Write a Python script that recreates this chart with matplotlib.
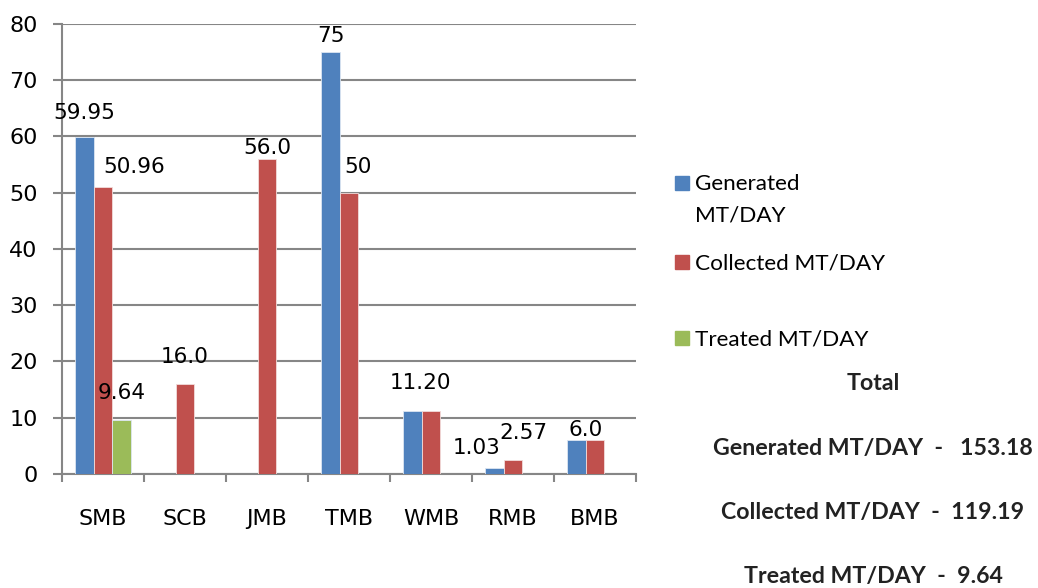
import matplotlib
matplotlib.use("Agg")
import matplotlib.pyplot as plt
from matplotlib.patches import Rectangle
import numpy as np

# zone-wise waste figures (MT/DAY)
zones = ["SMB", "SCB", "JMB", "TMB", "WMB", "RMB", "BMB"]
generated = [59.95, 0, 0, 75, 11.20, 1.03, 6.0]
collected = [50.96, 16.0, 56.0, 50, 11.20, 2.57, 6.0]
treated = [9.64, 0, 0, 0, 0, 0, 0]

series_names = ["Generated\nMT/DAY", "Collected MT/DAY", "Treated MT/DAY"]
colors = ["#4F81BD", "#C0504D", "#9BBB59"]

# (series index, zone index, label text)
bar_labels = [
    (0, 0, "59.95"), (1, 0, "50.96"), (2, 0, "9.64"),
    (1, 1, "16.0"), (1, 2, "56.0"),
    (0, 3, "75"), (1, 3, "50"),
    (0, 4, "11.20"),
    (0, 5, "1.03"), (1, 5, "2.57"),
    (0, 6, "6.0"),
]
# pixel offsets of each label from its bar top
label_offsets = [
    (0, 24), (31, 20), (0, 27),
    (0, 27), (0, 11),
    (0, 16), (9, 26),
    (8, 28),
    (-18, 20), (10, 27),
    (9, 10),
]

totals_title = "Total"
totals = [
    "Generated MT/DAY  -   153.18",
    "Collected MT/DAY  -  119.19",
    "Treated MT/DAY  -  9.64",
]

fig = plt.figure(figsize=(10.38, 5.88), dpi=100)
ax = fig.add_axes([0.0597, 0.1939, 0.5530, 0.7653])

x = np.arange(len(zones))
width = 0.225
all_series = [generated, collected, treated]
for i, (vals, c) in enumerate(zip(all_series, colors)):
    ax.bar(x + (i - 1) * width, vals, width=width, color=c,
           edgecolor="#F2DCDB" if i == 1 else "#DCE6F2", linewidth=0.6, zorder=3)

for (s, z, txt), (dx, dy) in zip(bar_labels, label_offsets):
    val = all_series[s][z]
    ax.annotate(txt, (x[z] + (s - 1) * width, val), xytext=(dx, dy),
                textcoords="offset pixels", ha="center", va="center",
                fontsize=15.5, color="black", zorder=4)

ax.set_xlim(-0.5, len(zones) - 0.5)
ax.set_ylim(0, 80)
ax.set_yticks(range(0, 81, 10))
ax.yaxis.grid(True, color="#868686", linewidth=1.5, zorder=0)
ax.tick_params(axis="y", direction="out", length=6.5, width=1.5,
               color="#868686", labelsize=16, pad=11)

# category labels at centres, tick marks at the boundaries
ax.set_xticks(x)
ax.set_xticklabels(zones)
ax.tick_params(axis="x", which="major", length=0, labelsize=16, pad=25)
ax.set_xticks(np.arange(-0.5, len(zones), 1), minor=True)
ax.tick_params(axis="x", which="minor", direction="out", length=5.5,
               width=1.5, color="#868686")

for side in ["top", "right"]:
    ax.spines[side].set_visible(False)
for side in ["left", "bottom"]:
    ax.spines[side].set_color("#868686")
    ax.spines[side].set_linewidth(1.5)
ax.set_axisbelow(True)

# legend drawn by hand at the right side
W, H = 1038, 588
legend_rows = [183, 262, 338]
for name, c, yc in zip(series_names, colors, legend_rows):
    fig.patches.append(Rectangle((675 / W, 1 - (yc + 7) / H), 14 / W, 14 / H,
                                 transform=fig.transFigure, color=c))
    fig.text(695 / W, 1 - (yc - 9) / H, name, fontsize=16.2, family="Lato",
             va="top", ha="left", linespacing=1.72)

fig.text(873 / W, 1 - 383 / H, totals_title, fontsize=16.7, family="Lato",
         weight="bold", ha="center", va="center", color="#222222")
for txt, yc in zip(totals, [448, 512, 577]):
    fig.text(873 / W, 1 - yc / H, txt, fontsize=16.7, family="Lato",
             weight="bold", ha="center", va="center", color="#222222")

fig.savefig("out.png", dpi=100)
